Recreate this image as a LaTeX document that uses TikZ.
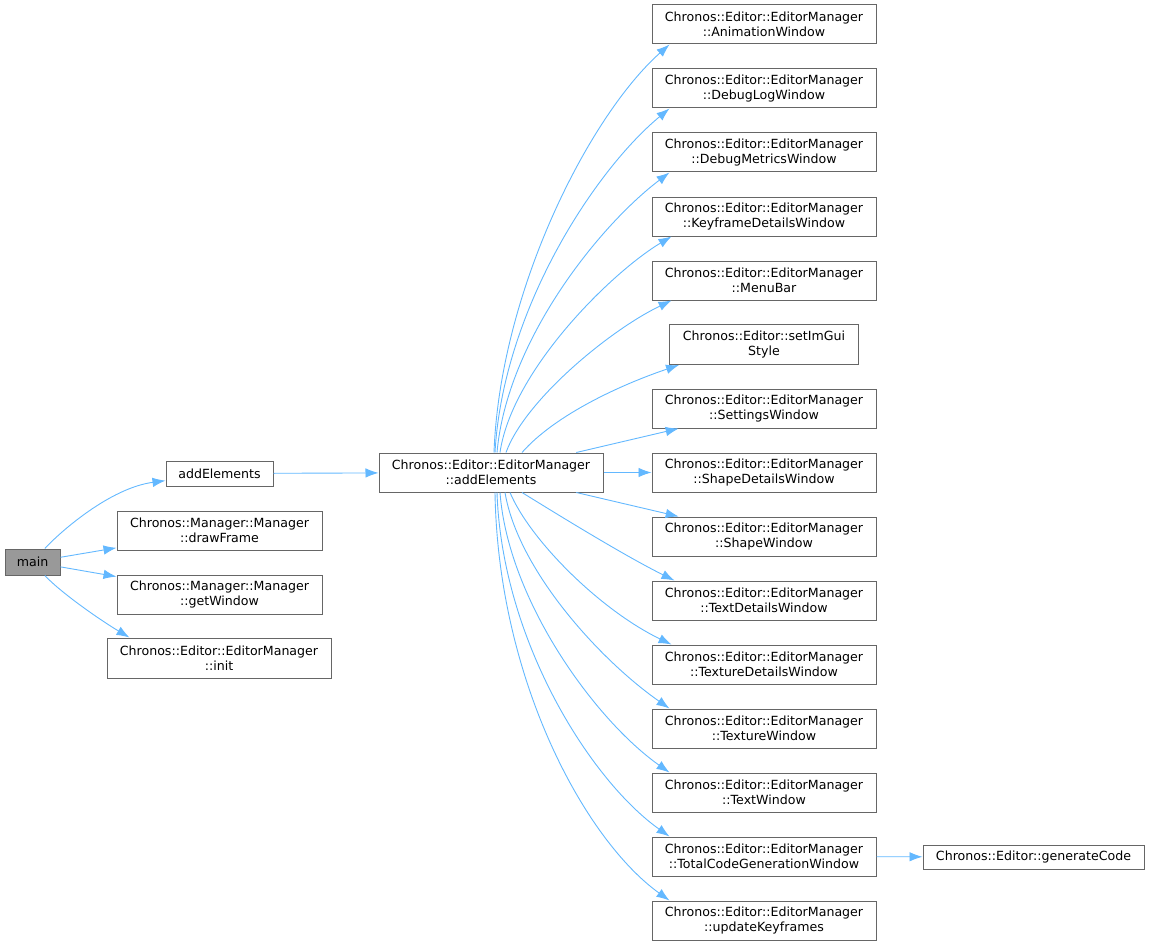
\documentclass[tikz,border=0pt]{standalone}
\usepackage{fontspec}
\setmainfont{DejaVu Sans}
\usepackage{tikz}
\usetikzlibrary{arrows.meta}
\usetikzlibrary{positioning}
\definecolor{edgeblue}{HTML}{63B8FF}
\definecolor{boxgray}{HTML}{666666}
\definecolor{maingray}{HTML}{999999}

\begin{document}
\begin{tikzpicture}[x=1pt, y=-1pt,
    fnbox/.style={draw=boxgray, line width=1pt, fill=white, inner sep=0pt,
        minimum width=224, minimum height=39, align=center,
        font=\fontsize{12.6}{15}\selectfont},
    call/.style={-{Latex[length=13pt, width=9.5pt]}, draw=edgeblue, line width=0.9pt}]
                \useasboundingbox (0, 0) rectangle (1149, 947);
                % callers
                \node [fnbox, fill=maingray, minimum width=55, minimum height=26] (main) at (32.5, 562) {main};
                \node [fnbox, minimum width=107, minimum height=25] (addEl) at (219.5, 473.5) {addElements};
                \node [fnbox, minimum width=205] (drawFrame) at (219.5, 530.5) {Chronos::Manager::Manager\\::drawFrame};
                \node [fnbox, minimum width=205] (getWindow) at (219.5, 594.5) {Chronos::Manager::Manager\\::getWindow};
                \node [fnbox, minimum height=40] (init) at (219, 658) {Chronos::Editor::EditorManager\\::init};
                \node [fnbox] (emAdd) at (491, 472.5) {Chronos::Editor::EditorManager\\::addElements};
                % windows
                \node [fnbox] (anim) at (764, 24.5) {Chronos::Editor::EditorManager\\::AnimationWindow};
                \node [fnbox] (debugLog) at (764, 88.5) {Chronos::Editor::EditorManager\\::DebugLogWindow};
                \node [fnbox] (debugMetrics) at (764, 152.5) {Chronos::Editor::EditorManager\\::DebugMetricsWindow};
                \node [fnbox] (keyframeDet) at (764, 216.5) {Chronos::Editor::EditorManager\\::KeyframeDetailsWindow};
                \node [fnbox] (menuBar) at (764, 280.5) {Chronos::Editor::EditorManager\\::MenuBar};
                \node [fnbox, minimum width=189, minimum height=40] (setStyle) at (764, 344.5) {Chronos::Editor::setImGui\\Style};
                \node [fnbox] (settings) at (764, 408.5) {Chronos::Editor::EditorManager\\::SettingsWindow};
                \node [fnbox] (shapeDet) at (764, 472.5) {Chronos::Editor::EditorManager\\::ShapeDetailsWindow};
                \node [fnbox] (shapeWin) at (764, 536.5) {Chronos::Editor::EditorManager\\::ShapeWindow};
                \node [fnbox] (textDet) at (764, 600.5) {Chronos::Editor::EditorManager\\::TextDetailsWindow};
                \node [fnbox] (textureDet) at (764, 664.5) {Chronos::Editor::EditorManager\\::TextureDetailsWindow};
                \node [fnbox] (textureWin) at (764, 728.5) {Chronos::Editor::EditorManager\\::TextureWindow};
                \node [fnbox] (textWin) at (764, 792.5) {Chronos::Editor::EditorManager\\::TextWindow};
                \node [fnbox] (totalCode) at (764, 856.5) {Chronos::Editor::EditorManager\\::TotalCodeGenerationWindow};
                \node [fnbox] (updateKf) at (764, 920.5) {Chronos::Editor::EditorManager\\::updateKeyframes};
                \node [fnbox, minimum width=221, minimum height=24] (genCode) at (1033.5, 857) {Chronos::Editor::generateCode};
                % main
                \draw [call] (main) .. controls (60, 532) and (110, 488) .. (addEl);
                \draw [call] (main) -- (drawFrame);
                \draw [call] (main) -- (getWindow);
                \draw [call] (main) .. controls (60, 592) and (100, 620) .. ([xshift=23]init.north west);
                \draw [call] (addEl) -- (emAdd);
                % upper fan
                \draw [call] ([xshift=3]emAdd.north) .. controls (500, 290) and (590, 115) .. ([xshift=18]anim.south west);
                \draw [call] ([xshift=4]emAdd.north) .. controls (503, 310) and (595, 170) .. ([xshift=18]debugLog.south west);
                \draw [call] ([xshift=6]emAdd.north) .. controls (507, 340) and (600, 225) .. ([xshift=18]debugMetrics.south west);
                \draw [call] ([xshift=9]emAdd.north) .. controls (512, 370) and (612, 272) .. ([xshift=20]keyframeDet.south west);
                \draw [call] ([xshift=15]emAdd.north) .. controls (525, 400) and (610, 330) .. ([xshift=20]menuBar.south west);
                \draw [call] ([xshift=31]emAdd.north) .. controls (555, 415) and (620, 385) .. ([xshift=10]setStyle.south west);
                \draw [call] (emAdd) -- (settings);
                \draw [call] (emAdd) -- (shapeDet);
                % lower fan
                \draw [call] (emAdd) -- (shapeWin);
                \draw [call] ([xshift=31]emAdd.south) .. controls (560, 516) and (625, 556) .. ([xshift=23]textDet.north west);
                \draw [call] ([xshift=19]emAdd.south) .. controls (530, 540) and (600, 610) .. ([xshift=20]textureDet.north west);
                \draw [call] ([xshift=14]emAdd.south) .. controls (518, 570) and (600, 660) .. ([xshift=18]textureWin.north west);
                \draw [call] ([xshift=9]emAdd.south) .. controls (508, 600) and (595, 720) .. ([xshift=18]textWin.north west);
                \draw [call] ([xshift=6]emAdd.south) .. controls (502, 640) and (590, 780) .. ([xshift=18]totalCode.north west);
                \draw [call] ([xshift=4]emAdd.south) .. controls (498, 680) and (585, 840) .. ([xshift=18]updateKf.north west);
                \draw [call] (totalCode) -- (genCode);
            \end{tikzpicture}
\end{document}
